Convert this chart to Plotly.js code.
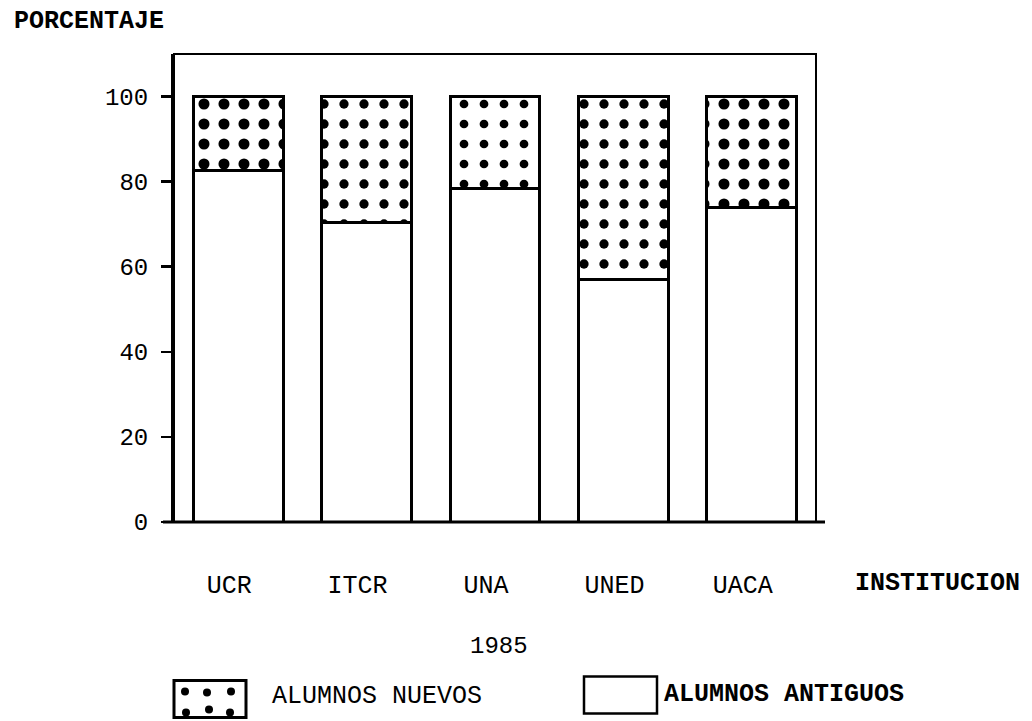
<!DOCTYPE html>
<html>
<head>
<meta charset="utf-8">
<script src="https://cdn.plot.ly/plotly-3.0.1.min.js"></script>
<style>html,body{margin:0;padding:0;background:#fff;}#chart{width:1032px;height:721px;}</style>
</head>
<body>
<div id="chart"></div>
<script>
const categories = ['UCR', 'ITCR', 'UNA', 'UNED', 'UACA'];
const alumnosAntiguos = [82.6, 70.4, 78.5, 57.0, 74.0];
const alumnosNuevos = [17.4, 29.6, 21.5, 43.0, 26.0];
const seriesNames = ['ALUMNOS NUEVOS', 'ALUMNOS ANTIGUOS'];
const yTicks = [0, 20, 40, 60, 80, 100];
const yTitle = 'PORCENTAJE';
const xTitle = 'INSTITUCION';
const yearLabel = '1985';

const mono = 'Liberation Mono, Courier New, monospace';
const dotSolidity = [0.24, 0.17, 0.15, 0.17, 0.24];

const traces = [
  {
    type: 'bar', name: seriesNames[1], x: categories, y: alumnosAntiguos,
    marker: {color: '#ffffff', line: {color: '#000', width: 3}},
    width: 0.7, hoverinfo: 'skip'
  },
  {
    type: 'bar', name: seriesNames[0], x: categories, y: alumnosNuevos,
    marker: {color: '#ffffff', line: {color: '#000', width: 3},
      pattern: {shape: '.', fgcolor: '#000', fgopacity: 1, bgcolor: '#fff', size: 20, solidity: dotSolidity, fillmode: 'overlay'}},
    width: 0.7, hoverinfo: 'skip'
  }
];

const L = 174, R = 816, T = 54, B = 521.7;
const W = R - L, H = B - T;
const px = v => (v - L) / W;
const py = v => (B - v) / H;

const shapes = [
  {type: 'rect', xref: 'paper', yref: 'paper', x0: 0, x1: 1, y0: 0, y1: 1, line: {color: '#000', width: 2}, layer: 'above'},
  {type: 'line', xref: 'paper', yref: 'paper', x0: px(163), x1: px(825), y0: 0, y1: 0, line: {color: '#000', width: 3}, layer: 'above'},
  {type: 'rect', xref: 'paper', yref: 'paper', x0: px(174), x1: px(246), y0: py(717), y1: py(680), line: {color: '#000', width: 3}, fillcolor: '#fff'},
  {type: 'rect', xref: 'paper', yref: 'paper', x0: px(584), x1: px(657), y0: py(713), y1: py(676), line: {color: '#000', width: 2.5}, fillcolor: '#fff'}
];
[[185, 691], [207, 692], [231, 691], [186, 712], [209, 709], [230, 712]].forEach(([cx, cy]) => {
  shapes.push({type: 'circle', xref: 'paper', yref: 'paper', x0: px(cx - 4), x1: px(cx + 4), y0: py(cy + 4), y1: py(cy - 4), fillcolor: '#000', line: {width: 0}});
});

const ann = (text, x, y, opts) => Object.assign({text, xref: 'paper', yref: 'paper', x: px(x), y: py(y), showarrow: false,
  font: {family: mono, size: 25, color: '#000'}}, opts || {});

const annotations = [
  ann(yTitle, 12, 22, {xanchor: 'left', yanchor: 'middle', font: {family: mono, size: 25, color: '#000', weight: 'bold'}}),
  ann(xTitle, 938, 583, {xanchor: 'center', yanchor: 'middle', font: {family: mono, size: 25, color: '#000', weight: 'bold'}}),
  ann(yearLabel, 499, 646, {xanchor: 'center', yanchor: 'middle', font: {family: mono, size: 24, color: '#000'}}),
  ann(seriesNames[0], 270, 696, {xanchor: 'left', yanchor: 'middle', font: {family: mono, size: 25, color: '#000'}}),
  ann(seriesNames[1], 662, 694, {xanchor: 'left', yanchor: 'middle', font: {family: mono, size: 25, color: '#000', weight: 'bold'}})
];

const layout = {
  width: 1032, height: 721,
  margin: {l: L, r: 1032 - R, t: T, b: 721 - B},
  paper_bgcolor: '#fff', plot_bgcolor: '#fff',
  barmode: 'stack', showlegend: false,
  xaxis: {
    type: 'category', range: [-0.5, 4.5], showgrid: false, zeroline: false, showline: false,
    ticks: '', ticklabelstandoff: 45, ticklabelshift: -9,
    tickfont: {family: mono, size: 25, color: '#000'}, fixedrange: true
  },
  yaxis: {
    range: [0, 110], tickvals: yTicks, ticktext: yTicks.map(String), showgrid: false, zeroline: false,
    showline: true, linecolor: '#000', linewidth: 3,
    ticks: 'outside', ticklen: 10, tickwidth: 2.5, tickcolor: '#000', ticklabelstandoff: 8,
    tickfont: {family: mono, size: 24, color: '#000'}, fixedrange: true
  },
  shapes, annotations
};

Plotly.newPlot('chart', traces, layout, {displayModeBar: false, staticPlot: true});
</script>
</body>
</html>
